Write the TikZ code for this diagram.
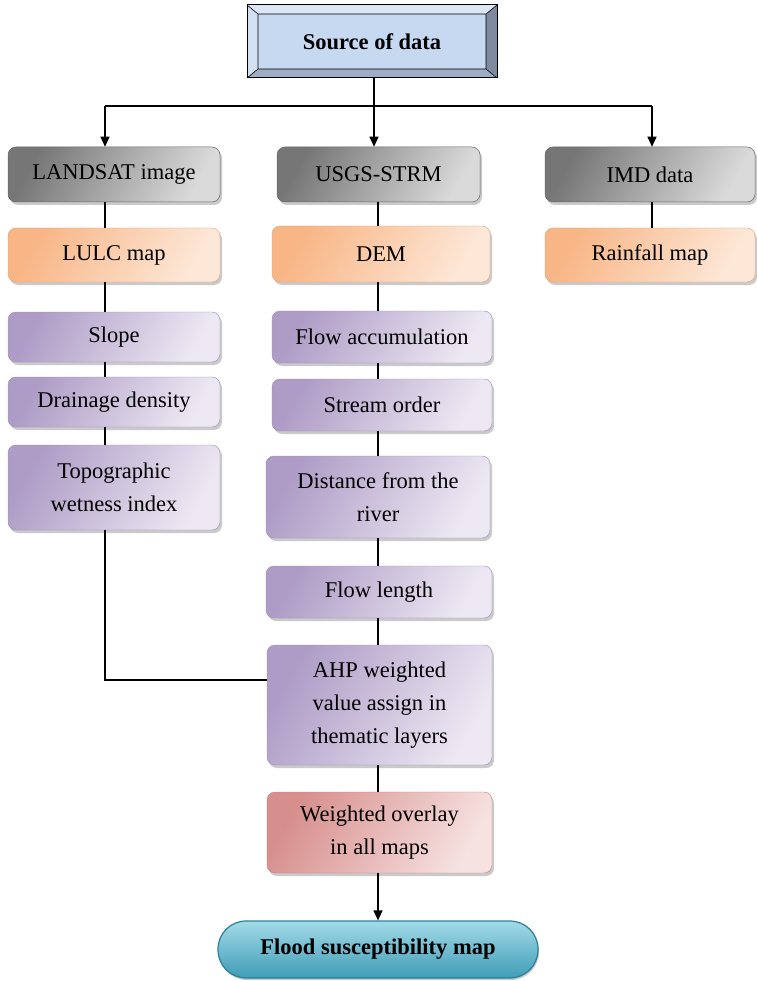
\documentclass[tikz,border=0pt]{standalone}
\usepackage{fontspec}
\setmainfont{Liberation Serif}
\usetikzlibrary{shadows,arrows.meta}
\definecolor{grayD}{HTML}{767676}
\definecolor{grayL}{HTML}{DADADA}
\definecolor{orD}{HTML}{F8B585}
\definecolor{orL}{HTML}{FDE8D8}
\definecolor{puD}{HTML}{AE9CC6}
\definecolor{puL}{HTML}{EDE8F3}
\definecolor{pkD}{HTML}{D78F8D}
\definecolor{pkL}{HTML}{F6E2E1}
\definecolor{bFace}{HTML}{C6D9F1}
\definecolor{bTop}{HTML}{DCE6F4}
\definecolor{bLeft}{HTML}{D3E0F2}
\definecolor{bRight}{HTML}{7D8AA0}
\definecolor{bBot}{HTML}{9EADC3}
\definecolor{flT}{HTML}{A3DAE8}
\definecolor{flB}{HTML}{3F9DB6}
\definecolor{flE}{HTML}{2E7F95}
\tikzset{
  base/.style={rounded corners=8pt, align=center, inner sep=2pt,
    font=\fontsize{22.5}{33}\selectfont, text=black,
    drop shadow={shadow xshift=2pt, shadow yshift=-3pt, fill=black!35, opacity=0.6}},
  graybox/.style={base, left color=grayD, right color=grayL, shading angle=60, draw=black!60, line width=0.5pt},
  orbox/.style={base, left color=orD, right color=orL, shading angle=60, draw=orD!90!black, line width=0.4pt},
  pubox/.style={base, left color=puD, right color=puL, shading angle=60, draw=puD!90!black, line width=0.4pt},
  pkbox/.style={base, left color=pkD, right color=pkL, shading angle=60, draw=pkD!90!black, line width=0.4pt},
  conn/.style={line width=1.2pt, draw=black},
  arr/.style={conn, -{Triangle[width=9pt,length=10pt]}}
}
\begin{document}
\begin{tikzpicture}[x=1pt,y=-1pt]
\useasboundingbox (0,0) rectangle (756,981);
% bevel box
\fill[bTop] (247,5) -- (497,5) -- (486,14) -- (258,14) -- cycle;
\fill[bLeft] (247,5) -- (258,14) -- (258,69) -- (247,78) -- cycle;
\fill[bRight] (497,5) -- (497,78) -- (486,69) -- (486,14) -- cycle;
\fill[bBot] (247,78) -- (497,78) -- (486,69) -- (258,69) -- cycle;
\fill[bFace] (258,14) rectangle (486,69);
\draw[black, line width=0.6pt] (258,14) rectangle (486,69)
  (247,5) -- (258,14) (497,5) -- (486,14) (247,78) -- (258,69) (497,78) -- (486,69);
\node[draw=black, line width=1pt, minimum width=250pt, minimum height=73pt,
  font=\fontsize{22.5}{33}\selectfont\bfseries] (src) at (372,41.5) {Source of data};

\coordinate (lx) at (105,0);
\coordinate (mx) at (378,0);
\coordinate (rx) at (652,0);
\coordinate (bus) at (374,106);

\node[graybox, minimum width=212pt, minimum height=55pt] (landsat) at (114,174.5) {LANDSAT image};
\node[graybox, minimum width=203pt, minimum height=55pt] (usgs) at (378.5,174.5) {USGS-STRM};
\node[graybox, minimum width=210pt, minimum height=55pt] (imd) at (650,174.5) {IMD data};

\node[orbox, minimum width=212pt, minimum height=54pt] (lulc) at (114,255) {LULC map};
\node[orbox, minimum width=218pt, minimum height=56pt] (dem) at (381,254) {DEM};
\node[orbox, minimum width=210pt, minimum height=54pt] (rain) at (650,255) {Rainfall map};

\node[pubox, minimum width=212pt, minimum height=50pt] (slope) at (114,337) {Slope};
\node[pubox, minimum width=212pt, minimum height=50pt] (drain) at (114,402) {Drainage density};
\node[pubox, minimum width=212pt, minimum height=85pt] (twi) at (114,487.5) {Topographic\\wetness index};

\node[pubox, minimum width=220pt, minimum height=52pt] (facc) at (382,337) {Flow accumulation};
\node[pubox, minimum width=220pt, minimum height=52pt] (stream) at (382,405) {Stream order};
\node[pubox, minimum width=224pt, minimum height=82pt] (dist) at (378,497) {Distance from the\\river};
\node[pubox, minimum width=226pt, minimum height=52pt] (flen) at (379,592) {Flow length};
\node[pubox, minimum width=225pt, minimum height=120pt] (ahp) at (379.5,705) {AHP weighted\\value assign in\\thematic layers};
\node[pkbox, minimum width=225pt, minimum height=81pt] (wo) at (379.5,832.5) {Weighted overlay\\in all maps};

\node[rounded corners=28pt, top color=flT, bottom color=flB, draw=flE, line width=1.2pt,
  minimum width=320pt, minimum height=57pt, font=\fontsize{22.5}{33}\selectfont\bfseries,
  drop shadow={shadow xshift=1pt, shadow yshift=-2pt, fill=black!40, opacity=0.5}]
  (flood) at (378,949.5) {Flood susceptibility map};

% connectors
\draw[conn] (src.south -| bus) -- (bus);
\draw[conn] (lx |- bus) -- (rx |- bus);
\draw[arr] (lx |- bus) -- (landsat.north -| lx);
\draw[arr] (bus) -- (usgs.north -| bus);
\draw[arr] (rx |- bus) -- (imd.north -| rx);

\draw[conn] (landsat.south -| lx) -- (lulc.north -| lx);
\draw[conn] (lulc.south -| lx) -- (slope.north -| lx);
\draw[conn] (slope.south -| lx) -- (drain.north -| lx);
\draw[conn] (drain.south -| lx) -- (twi.north -| lx);
\draw[conn] (twi.south -| lx) |- ([yshift=25pt]ahp.west);

\draw[conn] (usgs.south -| mx) -- (dem.north -| mx);
\draw[conn] (dem.south -| mx) -- (facc.north -| mx);
\draw[conn] (facc.south -| mx) -- (stream.north -| mx);
\draw[conn] (stream.south -| mx) -- (dist.north -| mx);
\draw[conn] (dist.south -| mx) -- (flen.north -| mx);
\draw[conn] (flen.south -| mx) -- (ahp.north -| mx);
\draw[conn] (ahp.south -| mx) -- (wo.north -| mx);
\draw[arr] (wo.south -| mx) -- (flood.north -| mx);

\draw[conn] (imd.south -| rx) -- (rain.north -| rx);
\end{tikzpicture}
\end{document}
